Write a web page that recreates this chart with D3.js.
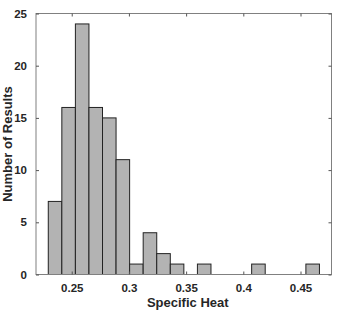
<!DOCTYPE html>
<html lang="en">
<head>
    <meta charset="UTF-8"/>
    <title>Specific Heat Histogram</title>
    <script src="https://d3js.org/d3.v7.min.js"></script>
    <style>
        body { margin: 0; background: #fff; }
        text { font-family: "Liberation Sans", Arial, sans-serif; font-weight: bold; fill: #262626; }
    </style>
</head>
<body>
    <script>
        var w = 338;
        var h = 315;

        // histogram bins (MATLAB auto bins)
        var binStart = 0.2295;
        var binWidth = 0.011853;
        var counts = [7, 16, 24, 16, 15, 11, 1, 4, 2, 1, 0, 1, 0, 0, 0, 1, 0, 0, 0, 1];

        var xTicks = [0.25, 0.3, 0.35, 0.4, 0.45];
        var yTicks = [0, 5, 10, 15, 20, 25];

        // note: "top" is a read-only global in browsers, so use other names
        var plotL = 36, plotR = 331.5, plotT = 13.5, plotB = 274.5;

        var xScale = d3.scaleLinear()
                        .domain([0.21877, 0.4771])
                        .range([plotL, plotR]);

        var yScale = d3.scaleLinear()
                        .domain([0, 25])
                        .range([plotB, plotT]);

        var svg = d3.select("body")
                    .append("svg")
                    .attr("width", w)
                    .attr("height", h);

        var bins = counts.map(function(c, i) {
            return { x0: binStart + i * binWidth, x1: binStart + (i + 1) * binWidth, n: c };
        }).filter(function(d) { return d.n > 0; });

        svg.selectAll("rect.bar")
            .data(bins)
            .enter()
            .append("rect")
            .attr("class", "bar")
            .attr("x", function(d) { return xScale(d.x0); })
            .attr("y", function(d) { return yScale(d.n); })
            .attr("width", function(d) { return xScale(d.x1) - xScale(d.x0); })
            .attr("height", function(d) { return yScale(0) - yScale(d.n); })
            .attr("fill", "#b3b3b3")
            .attr("stroke", "#222")
            .attr("stroke-width", 1);

        // box
        svg.append("rect")
            .attr("x", plotL)
            .attr("y", plotT)
            .attr("width", plotR - plotL)
            .attr("height", plotB - plotT)
            .attr("fill", "none")
            .attr("stroke", "#808080")
            .attr("stroke-width", 1);

        // ticks on all four sides, pointing in
        var xAxisB = d3.axisBottom(xScale).tickValues(xTicks).tickSize(-3).tickPadding(9)
                       .tickFormat(function(d) { return String(d); });
        var gxb = svg.append("g").attr("transform", "translate(0," + plotB + ")").call(xAxisB);
        var gxt = svg.append("g").attr("transform", "translate(0," + plotT + ")")
                     .call(d3.axisTop(xScale).tickValues(xTicks).tickSize(-3).tickFormat(""));

        var yAxisL = d3.axisLeft(yScale).tickValues(yTicks).tickSize(-3).tickPadding(9);
        var gyl = svg.append("g").attr("transform", "translate(" + plotL + ",0)").call(yAxisL);
        var gyr = svg.append("g").attr("transform", "translate(" + plotR + ",0)")
                     .call(d3.axisRight(yScale).tickValues(yTicks).tickSize(-3).tickFormat(""));

        [gxb, gxt, gyl, gyr].forEach(function(g) {
            g.select(".domain").remove();
            g.selectAll(".tick line").attr("stroke", "#555");
            g.selectAll("text")
             .style("font-family", "'Liberation Sans', Arial, sans-serif")
             .style("font-weight", "bold")
             .style("font-size", "11.5px")
             .attr("fill", "#262626");
        });

        svg.append("text")
            .attr("x", (plotL + plotR) / 2 + 4)
            .attr("y", 307)
            .attr("text-anchor", "middle")
            .attr("font-size", "13px")
            .text("Specific Heat");

        svg.append("text")
            .attr("transform", "translate(11.5," + ((plotT + plotB) / 2) + ") rotate(-90)")
            .attr("text-anchor", "middle")
            .attr("font-size", "13px")
            .text("Number of Results");
    </script>
</body>
</html>
